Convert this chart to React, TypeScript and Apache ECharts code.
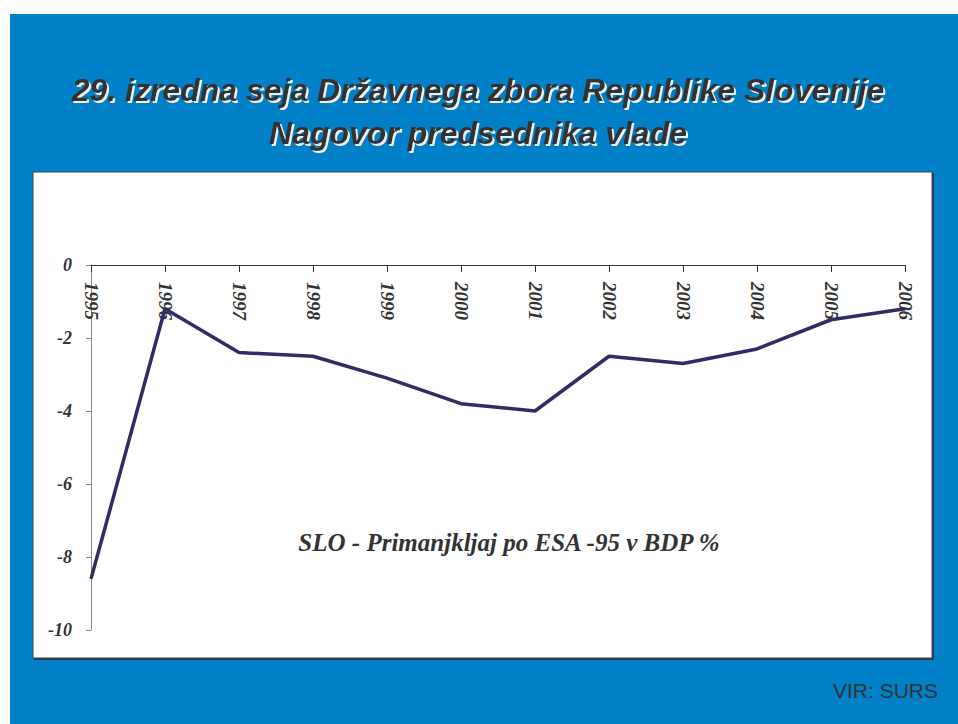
import React, { useEffect, useRef } from "react";
import * as echarts from "echarts";

const years = ["1995", "1996", "1997", "1998", "1999", "2000", "2001", "2002", "2003", "2004", "2005", "2006"];
const deficit = [-8.6, -1.2, -2.4, -2.5, -3.1, -3.8, -4.0, -2.5, -2.7, -2.3, -1.5, -1.2];
const titleLines = ["29. izredna seja Državnega zbora Republike Slovenije", "Nagovor predsednika vlade"];
const seriesLabel = "SLO - Primanjkljaj po ESA -95 v BDP %";
const sourceText = "VIR: SURS";

export default function App() {
  const ref = useRef<HTMLDivElement>(null);
  useEffect(() => {
    document.body.style.margin = "0";
    const chart = echarts.init(ref.current!, null, { renderer: "svg" });
    const serif = "'Liberation Serif', 'Times New Roman', serif";
    const sans = "'Liberation Sans', Arial, sans-serif";
    const titleY = [90, 133];
    const titleGraphics: any[] = titleLines.map((t, i) => ({
      type: "text", x: 478, y: titleY[i], z: 2,
      style: {
        text: t, font: `italic bold 32px ${sans}`, fill: "#333333", align: "center", verticalAlign: "middle",
        textShadowColor: "#f0f0f0", textShadowOffsetX: 2, textShadowOffsetY: 2, textShadowBlur: 1,
      },
    }));
    chart.setOption({
      animation: false,
      backgroundColor: "#ffffff",
      graphic: [
        { type: "rect", z: -10, shape: { x: 10, y: 14, width: 948, height: 710 }, style: { fill: "#0080C6" } },
        { type: "rect", z: -9, shape: { x: 34, y: 173, width: 900, height: 487 }, style: { fill: "#2f3b48" } },
        {
          type: "rect", z: -8, shape: { x: 33, y: 172, width: 899, height: 486 },
          style: { fill: "#ffffff", stroke: "#3a4655", lineWidth: 1 },
        },
        ...titleGraphics,
        {
          type: "text", x: 509, y: 542,
          style: { text: seriesLabel, font: `italic bold 25px ${serif}`, fill: "#333333", align: "center", verticalAlign: "middle" },
        },
        {
          type: "text", x: 938, y: 690,
          style: { text: sourceText, font: `21px ${sans}`, fill: "#333333", align: "right", verticalAlign: "middle" },
        },
      ],
      grid: { left: 91, right: 53, top: 265, bottom: 94, containLabel: false },
      xAxis: {
        type: "category",
        data: years,
        position: "top",
        boundaryGap: false,
        axisLine: { onZero: false, lineStyle: { color: "#333333", width: 1 } },
        axisTick: { show: true, inside: true, length: 7, alignWithLabel: true, lineStyle: { color: "#333333" } },
        axisLabel: {
          inside: true, rotate: 90, margin: 17, interval: 0,
          fontFamily: serif, fontStyle: "italic", fontWeight: "bold", fontSize: 19, color: "#333333",
        },
        splitLine: { show: false },
      },
      yAxis: {
        type: "value",
        min: -10,
        max: 0,
        interval: 2,
        axisLine: { show: true, lineStyle: { color: "#8a8a8a", width: 1 } },
        axisTick: { show: true, length: 5, lineStyle: { color: "#8a8a8a" } },
        axisLabel: {
          margin: 19, fontFamily: serif, fontStyle: "italic", fontWeight: "bold", fontSize: 18, color: "#333333",
        },
        splitLine: { show: false },
      },
      series: [
        {
          type: "line",
          data: deficit,
          symbol: "none",
          lineStyle: { color: "#2e2d66", width: 3.5 },
        },
      ],
    });
    return () => chart.dispose();
  }, []);
  return <div ref={ref} style={{ position: "absolute", left: 0, top: 0, width: 958, height: 724 }} />;
}
